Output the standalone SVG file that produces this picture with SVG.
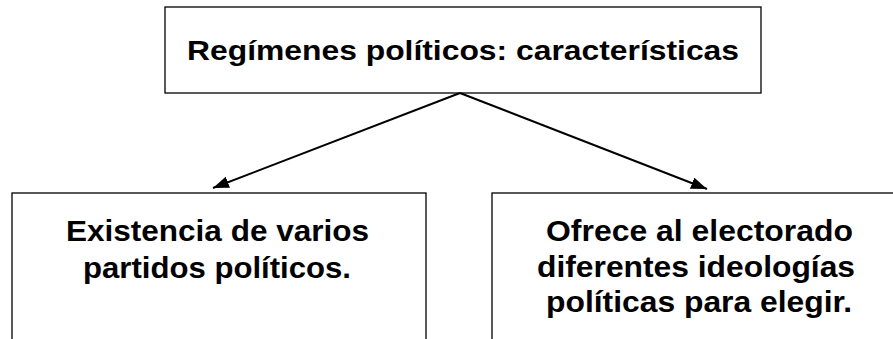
<svg xmlns="http://www.w3.org/2000/svg" width="893" height="339" viewBox="0 0 893 339">
<style>
.box{fill:#fff;stroke:#000;stroke-width:1.3}
.t{font-family:"Liberation Sans",Arial,sans-serif;font-weight:bold;text-anchor:middle;fill:#000}
.c{stroke:#000;stroke-width:2;fill:none;marker-end:url(#ah)}
</style>
<defs>
<marker id="ah" viewBox="0 0 16 12" refX="16" refY="6" markerWidth="16" markerHeight="12" markerUnits="userSpaceOnUse" orient="auto">
<path d="M0,0 L16,6 L0,12 z" fill="#000"/>
</marker>
</defs>
<g id="top">
<rect class="box" x="165" y="7" width="596" height="86"/>
<text class="t" x="463" y="60" font-size="28" textLength="552" lengthAdjust="spacingAndGlyphs">Regímenes políticos: características</text>
</g>
<g id="left">
<rect class="box" x="12" y="193" width="414" height="160"/>
<text class="t" x="217.5" y="241" font-size="29" textLength="303" lengthAdjust="spacingAndGlyphs">Existencia de varios</text>
<text class="t" x="217" y="278" font-size="29" textLength="268" lengthAdjust="spacingAndGlyphs">partidos políticos.</text>
</g>
<g id="right">
<rect class="box" x="492" y="193" width="420" height="160"/>
<text class="t" x="699.5" y="241" font-size="29" textLength="307" lengthAdjust="spacingAndGlyphs">Ofrece al electorado</text>
<text class="t" x="696" y="277" font-size="29" textLength="318" lengthAdjust="spacingAndGlyphs">diferentes ideologías</text>
<text class="t" x="699" y="312" font-size="29" textLength="306" lengthAdjust="spacingAndGlyphs">políticas para elegir.</text>
</g>
<g id="connectors">
<line class="c" x1="460" y1="93" x2="213" y2="188"/>
<line class="c" x1="460" y1="93" x2="707" y2="189"/>
</g>
</svg>
